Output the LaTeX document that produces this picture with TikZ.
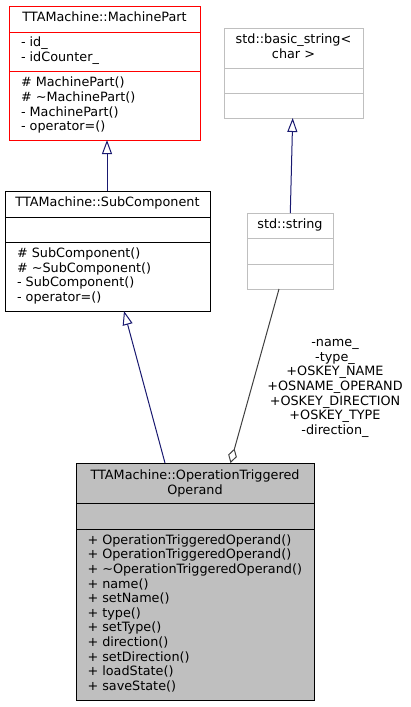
\documentclass[tikz,border=0pt]{standalone}
\usepackage{fontspec}
\setmainfont{DejaVu Sans}
\usetikzlibrary{arrows.meta}
\definecolor{navy}{HTML}{191970}
\definecolor{grayline}{HTML}{BFBFBF}
\definecolor{aggline}{HTML}{404040}
\definecolor{boxfill}{HTML}{BFBFBF}
\begin{document}
\begin{tikzpicture}[x=1pt,y=-1pt,line width=1pt,
  txt/.style={inner sep=0pt,anchor=base west,font=\fontsize{12.8}{14.6}\selectfont},
  ttl/.style={inner sep=0pt,anchor=base,font=\fontsize{12.8}{14.6}\selectfont},
  lbl/.style={inner sep=0pt,anchor=base,font=\fontsize{12.8}{14.6}\selectfont},
  inherit/.style={draw=navy,-{Triangle[open,length=14pt,width=10pt]},fill=none},
  aggr/.style={draw=aggline,-{Diamond[open,length=15pt,width=9pt]}}]
\useasboundingbox[fill=white] (0,0) rectangle (410,707);

% MachinePart
\draw[red,fill=white] (9,6) rectangle (200,140);
\coordinate (mpbot) at (107,140);
\draw[red] (9,32) -- (200,32) (9,71) -- (200,71);
\node[ttl] (mpt) at (104.5,21.5) {TTAMachine::MachinePart};
\node[txt] (mpa1) at (20.5,46.5) {- id\_};
\node[txt] (mpa2) at (20.5,61.5) {- idCounter\_};
\node[txt] (mpm1) at (20.5,86) {\# MachinePart()};
\node[txt] (mpm2) at (20.5,101) {\# \textasciitilde MachinePart()};
\node[txt] (mpm3) at (20.5,116) {- MachinePart()};
\node[txt] (mpm4) at (20.5,130.7) {- operator=()};

% SubComponent
\draw[black,fill=white] (5,191) rectangle (210,311);
\coordinate (sctop) at (107,191);
\coordinate (scbot) at (124,311);
\draw (5,217) -- (210,217) (5,242) -- (210,242);
\node[ttl] (sct) at (107.5,206.7) {TTAMachine::SubComponent};
\node[txt] (scm1) at (16.5,257.7) {\# SubComponent()};
\node[txt] (scm2) at (16.5,272.2) {\# \textasciitilde SubComponent()};
\node[txt] (scm3) at (16.5,286.7) {- SubComponent()};
\node[txt] (scm4) at (16.5,301.2) {- operator=()};

% basic_string
\draw[grayline,fill=white] (224,28) rectangle (363,118);
\coordinate (bsbot) at (292.7,118);
\draw[grayline] (224,68) -- (363,68) (224,93) -- (363,93);
\node[ttl] (bst1) at (293.5,43.7) {std::basic\_string<};
\node[ttl] (bst2) at (293.5,58.3) {char >};

% std::string
\draw[grayline,fill=white] (247,213) rectangle (333,289);
\coordinate (sstop) at (290.3,213);
\coordinate (ssbot) at (279,289);
\draw[grayline] (247,238) -- (333,238) (247,264) -- (333,264);
\node[ttl] (sst) at (290,228.7) {std::string};

% OperationTriggeredOperand
\draw[black,fill=boxfill] (76,463) rectangle (314,700);
\coordinate (ototop) at (165,463);
\coordinate (otodia) at (230.5,463);
\draw (76,503) -- (314,503) (76,529) -- (314,529);
\node[ttl] (otot1) at (195,479.3) {TTAMachine::OperationTriggered};
\node[ttl] (otot2) at (195,494) {Operand};
\node[txt] (om1) at (87,544.3) {+ OperationTriggeredOperand()};
\node[txt] (om2) at (87,558.9) {+ OperationTriggeredOperand()};
\node[txt] (om3) at (87,573.5) {+ \textasciitilde OperationTriggeredOperand()};
\node[txt] (om4) at (87,588.1) {+ name()};
\node[txt] (om5) at (87,602.7) {+ setName()};
\node[txt] (om6) at (87,617.3) {+ type()};
\node[txt] (om7) at (87,631.9) {+ setType()};
\node[txt] (om8) at (87,646.5) {+ direction()};
\node[txt] (om9) at (87,661.1) {+ setDirection()};
\node[txt] (om10) at (87,675.7) {+ loadState()};
\node[txt] (om11) at (87,690.3) {+ saveState()};

% connectors
\draw[inherit] (sctop) -- (mpbot);
\draw[inherit] (ototop) -- (scbot);
\draw[inherit] (sstop) -- (bsbot);
\draw[aggr] (ssbot) -- (otodia);

% labels
\node[lbl] (l1) at (335,346.7) {-name\_};
\node[lbl] (l2) at (335,361.3) {-type\_};
\node[lbl] (l3) at (335,375.9) {+OSKEY\_NAME};
\node[lbl] (l4) at (335,390.5) {+OSNAME\_OPERAND};
\node[lbl] (l5) at (335,405.1) {+OSKEY\_DIRECTION};
\node[lbl] (l6) at (335,419.7) {+OSKEY\_TYPE};
\node[lbl] (l7) at (335,434.3) {-direction\_};
\end{tikzpicture}
\end{document}
